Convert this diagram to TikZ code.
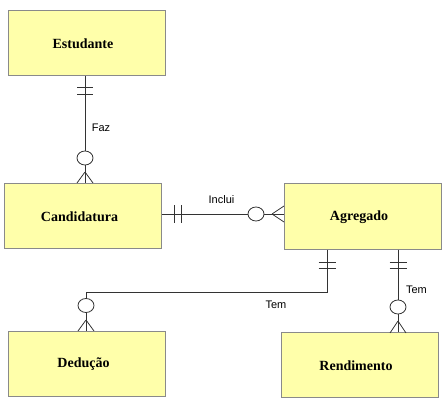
\documentclass[tikz,border=0pt]{standalone}
\usepackage{fontspec}
\usetikzlibrary{shapes.geometric}
\setmainfont{Liberation Serif}
\newfontfamily\labfont{Liberation Sans}
\definecolor{entfill}{HTML}{FFFFAA}
\definecolor{entdraw}{HTML}{8A8A8A}
\definecolor{conn}{HTML}{333333}
\begin{document}
\begin{tikzpicture}[x=1pt,y=-1pt,
  ent/.style={draw=entdraw,fill=entfill,line width=1pt,minimum width=157pt,minimum height=65pt,inner sep=0pt,
    label={[font=\fontsize{14}{16}\selectfont\bfseries,xshift=-3.5pt,yshift=-0.5pt]center:#1}},
  lnk/.style={draw=conn,line width=0.8pt},
  lab/.style={font=\labfont\fontsize{11}{13}\selectfont,inner sep=0pt},
  ring/.style={draw=conn,fill=white,line width=0.8pt,ellipse,minimum width=16pt,minimum height=14pt,inner sep=0pt}
]
\useasboundingbox (0,0) rectangle (448,404);
% entities
\node[ent=Estudante] (est) at (86.5,43) {};
\node[ent=Candidatura] (cand) at (83,216) {};
\node[ent=Agregado] (agr) at (362.5,216.5) {};
\node[ent=Dedução] (ded) at (87,363.5) {};
\node[ent=Rendimento] (ren) at (359.5,365) {};
% guide coordinates
\coordinate (g1) at (85,0);
\coordinate (g2) at (0,214);
\coordinate (g3) at (327,0);
\coordinate (g4) at (398,0);
\coordinate (g5) at (86,0);
\coordinate (bend1) at (327,292);
\coordinate (bend2) at (86,292);
% Faz
\draw[lnk] (est.south -| g1) -- (cand.north -| g1);
\draw[lnk] (77,87.5) -- (93,87.5) (77,94) -- (93,94);
\node[ring] (r1) at (85,158) {};
\draw[lnk] (85,172) -- (77,183) (85,172) -- (93,183);
\node[lab] (lfaz) at (101,128) {Faz};
% Inclui
\draw[lnk] (cand.east |- g2) -- (agr.west |- g2);
\draw[lnk] (174,205.5) -- (174,222.5) (181,205.5) -- (181,222.5);
\node[ring] (r2) at (256,214) {};
\draw[lnk] (272,214) -- (284,206) (272,214) -- (284,222);
\node[lab] (linc) at (221.5,200) {Inclui};
% Tem (Dedução)
\draw[lnk] (agr.south -| g3) -- (bend1) -- (bend2) -- (ded.north -| g5);
\draw[lnk] (318.5,262) -- (335.5,262) (318.5,268) -- (335.5,268);
\node[ring] (r3) at (86,305.5) {};
\draw[lnk] (86,320) -- (78,331) (86,320) -- (94,331);
\node[lab] (ltem1) at (276,304.5) {Tem};
% Tem (Rendimento)
\draw[lnk] (agr.south -| g4) -- (ren.north -| g4);
\draw[lnk] (389.5,262) -- (406.5,262) (389.5,268) -- (406.5,268);
\node[ring] (r4) at (398,307) {};
\draw[lnk] (398,321) -- (390,333) (398,321) -- (406,333);
\node[lab] (ltem2) at (416.5,290) {Tem};
\end{tikzpicture}
\end{document}
